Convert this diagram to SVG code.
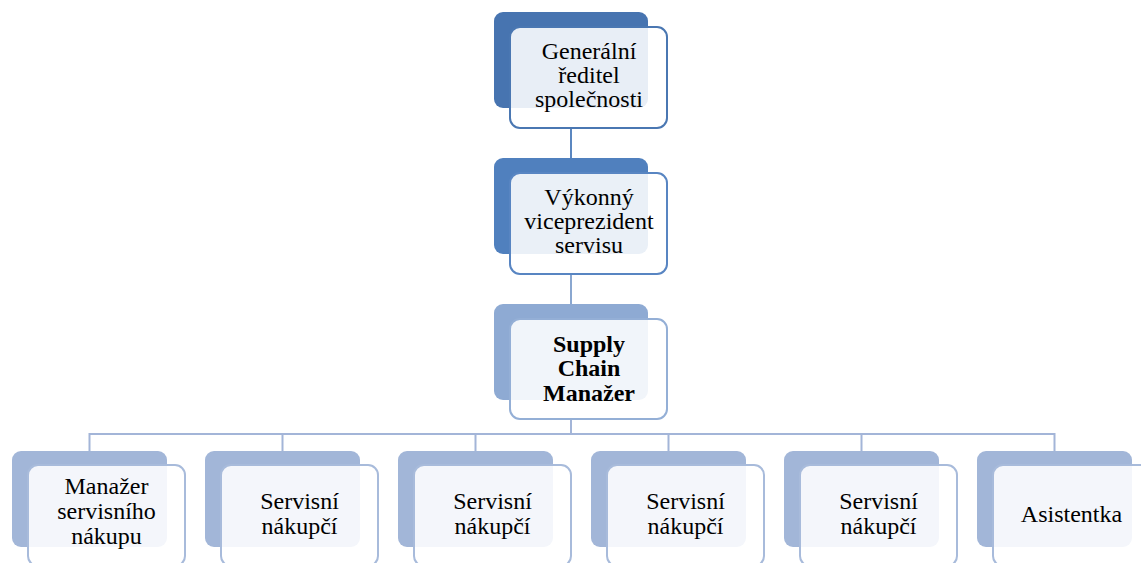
<svg xmlns="http://www.w3.org/2000/svg" width="1141" height="563" viewBox="0 0 1141 563">
  <style>
    .back { stroke: none; }
    .front { fill: #ffffff; fill-opacity: 0.88; stroke-width: 2; }
    .l1 .back { fill: #4774b0; }
    .l1 .front { stroke: #4a77b2; }
    .l2 .back { fill: #5080be; }
    .l2 .front { stroke: #5885c2; }
    .l3 .back { fill: #8eaad3; }
    .l3 .front { stroke: #94afd6; }
    .l4 .back { fill: #a2b6d8; }
    .l4 .front { stroke: #a8bbdb; }
    .lbl { font-size: 24px; fill: #000000; text-anchor: middle; }
    .bold { font-weight: bold; }
    .conn { fill: none; stroke-width: 2; }
  </style>

  <!-- connectors (drawn under the boxes) -->
  <g id="connectors">
    <line class="conn" x1="571" y1="128" x2="571" y2="158" stroke="#5b87c0"/>
    <line class="conn" x1="571" y1="273" x2="571" y2="304" stroke="#8aa7d0"/>
    <path class="conn" stroke="#a3b5d8" stroke-width="2.5"
          d="M571 419 V434 M89.5 451 V434 H1054.5 V451 M282.5 434 V451 M475.5 434 V451 M668.5 434 V451 M861.5 434 V451"/>
  </g>

  <g font-family="'Liberation Serif', 'DejaVu Serif', serif">
  <!-- level 1 -->
  <g id="node-generalni-reditel" class="l1">
    <rect class="back" x="494" y="12" width="154" height="96" rx="9"/>
    <rect class="front" x="510" y="27" width="157" height="101" rx="10"/>
    <text class="lbl" x="589" y="59">Generální</text>
    <text class="lbl" x="589" y="83">ředitel</text>
    <text class="lbl" x="589" y="107">společnosti</text>
  </g>

  <!-- level 2 -->
  <g id="node-vykonny-viceprezident" class="l2">
    <rect class="back" x="494" y="158" width="154" height="96" rx="9"/>
    <rect class="front" x="510" y="173" width="157" height="101" rx="10"/>
    <text class="lbl" x="589" y="205">Výkonný</text>
    <text class="lbl" x="589" y="229">viceprezident</text>
    <text class="lbl" x="589" y="253">servisu</text>
  </g>

  <!-- level 3 -->
  <g id="node-supply-chain" class="l3">
    <rect class="back" x="494" y="304" width="154" height="96" rx="9"/>
    <rect class="front" x="510" y="319" width="157" height="100" rx="10"/>
    <text class="lbl bold" x="589" y="352">Supply</text>
    <text class="lbl bold" x="589" y="376">Chain</text>
    <text class="lbl bold" x="589" y="401">Manažer</text>
  </g>

  <!-- level 4 -->
  <g id="node-manazer-nakupu" class="l4">
    <rect class="back" x="12" y="451" width="155" height="96" rx="9"/>
    <rect class="front" x="28" y="465" width="157" height="101" rx="10"/>
    <text class="lbl" x="106.5" y="494">Manažer</text>
    <text class="lbl" x="106.5" y="519">servisního</text>
    <text class="lbl" x="106.5" y="544">nákupu</text>
  </g>

  <g id="node-nakupci-1" class="l4">
    <rect class="back" x="205" y="451" width="155" height="96" rx="9"/>
    <rect class="front" x="221" y="465" width="157" height="101" rx="10"/>
    <text class="lbl" x="299.5" y="509">Servisní</text>
    <text class="lbl" x="299.5" y="534">nákupčí</text>
  </g>

  <g id="node-nakupci-2" class="l4">
    <rect class="back" x="398" y="451" width="155" height="96" rx="9"/>
    <rect class="front" x="414" y="465" width="157" height="101" rx="10"/>
    <text class="lbl" x="492.5" y="509">Servisní</text>
    <text class="lbl" x="492.5" y="534">nákupčí</text>
  </g>

  <g id="node-nakupci-3" class="l4">
    <rect class="back" x="591" y="451" width="155" height="96" rx="9"/>
    <rect class="front" x="607" y="465" width="157" height="101" rx="10"/>
    <text class="lbl" x="685.5" y="509">Servisní</text>
    <text class="lbl" x="685.5" y="534">nákupčí</text>
  </g>

  <g id="node-nakupci-4" class="l4">
    <rect class="back" x="784" y="451" width="155" height="96" rx="9"/>
    <rect class="front" x="800" y="465" width="157" height="101" rx="10"/>
    <text class="lbl" x="878.5" y="509">Servisní</text>
    <text class="lbl" x="878.5" y="534">nákupčí</text>
  </g>

  <g id="node-asistentka" class="l4">
    <rect class="back" x="977" y="451" width="155" height="96" rx="9"/>
    <rect class="front" x="993" y="465" width="157" height="101" rx="10"/>
    <text class="lbl" x="1071.5" y="522">Asistentka</text>
  </g>
  </g>
</svg>
